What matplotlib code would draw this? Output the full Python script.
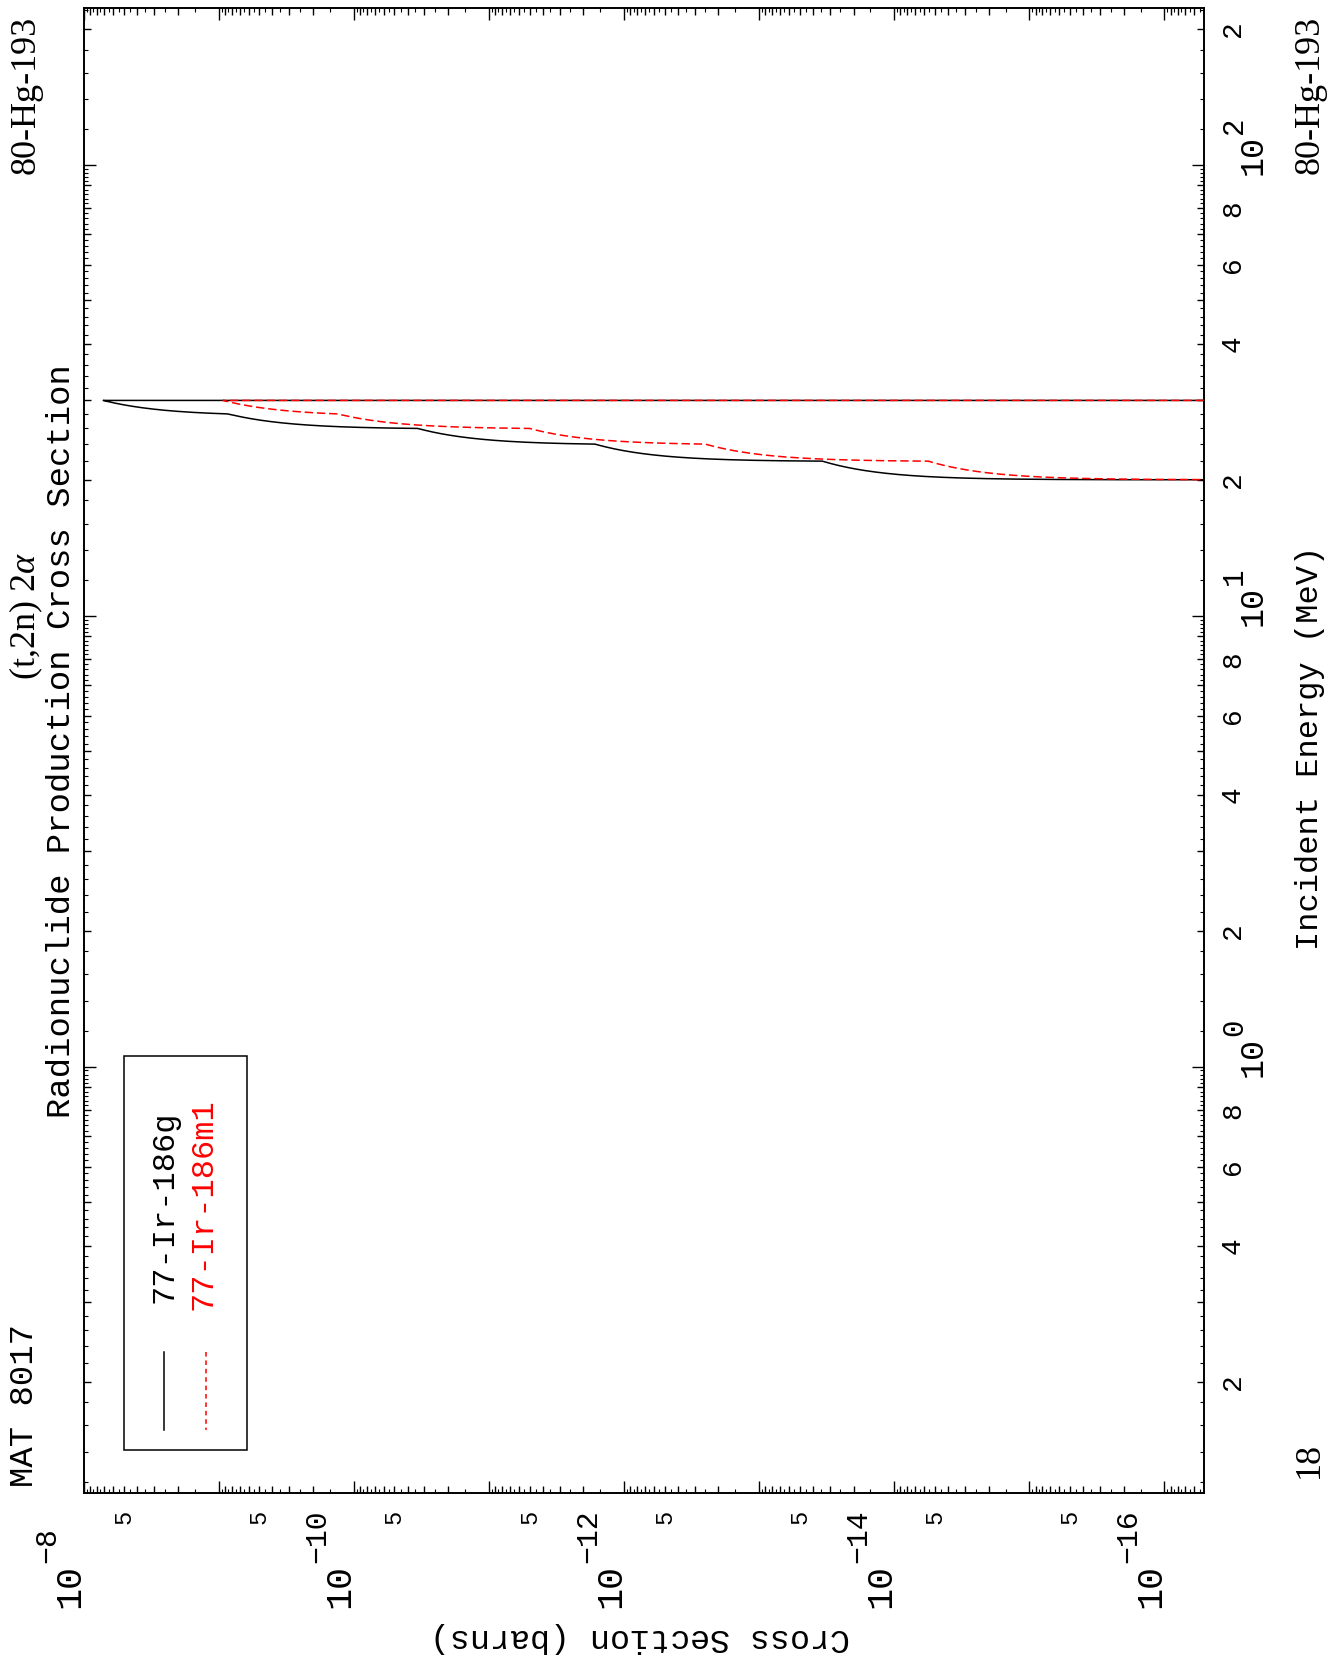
import numpy as np
import matplotlib
matplotlib.use("Agg")
import matplotlib.pyplot as plt
from matplotlib.ticker import FixedLocator, FixedFormatter, NullFormatter
from matplotlib.patches import Rectangle
from matplotlib.lines import Line2D
from matplotlib.transforms import offset_copy

# ---------------- data ----------------
energy_mev = [20.0, 22.0, 24.0, 26.0, 28.0, 30.0]
xs_ir186g = [0.0, 3.4e-14, 1.64e-12, 3.36e-11, 8.5e-10, 7.14e-9]
xs_ir186m1 = [0.0, 5.6e-15, 2.5e-13, 5.0e-12, 1.31e-10, 9.27e-10]
series_labels = ["77-Ir-186g", "77-Ir-186m1"]
series_colors = ["black", "red"]

xs_major = [1e-8, 1e-9, 1e-10, 1e-11, 1e-12, 1e-13, 1e-14, 1e-15, 1e-16]
xs_major_exp = ["\u22128", "", "\u221210", "", "\u221212", "", "\u221214", "", "\u221216"]
energy_major = [1.0, 10.0, 100.0]
energy_major_exp = ["0", "1", "2"]

XLIM = (1e-8, 5.1e-17)
YLIM = (0.1133, 222.5)

W, H = 1334, 1662
plt.rcParams['font.family'] = ['Liberation Serif', 'DejaVu Serif']
plt.rcParams['mathtext.fontset'] = 'custom'
plt.rcParams['mathtext.rm'] = 'Liberation Serif'
plt.rcParams['mathtext.it'] = 'Liberation Serif:italic'
plt.rcParams['mathtext.bf'] = 'Liberation Serif:bold'
MONO = ['Liberation Mono', 'DejaVu Sans Mono']


def px(x, y):
    return (x / W, 1.0 - y / H)


def linlin(e, s, n=1200):
    """Draw-time rendering of ENDF lin-lin interpolation between tabulated points."""
    e = np.asarray(e, float)
    s = np.asarray(s, float)
    t = np.linspace(0.0, 1.0, n)[:-1]
    ee = [e[i] + (e[i + 1] - e[i]) * t for i in range(len(e) - 1)] + [e[-1:]]
    ss = [s[i] + (s[i + 1] - s[i]) * t for i in range(len(s) - 1)] + [s[-1:]]
    ee = np.concatenate(ee + [e[-1:]])
    ss = np.concatenate(ss + [np.zeros(1)])   # end of tabulation: drop to zero
    return ee, ss


fig = plt.figure(figsize=(W / 100, H / 100), dpi=100)
L, R, T, B = 83.5, 1204.0, 8.0, 1493.0
ax = fig.add_axes([L / W, 1 - B / H, (R - L) / W, (B - T) / H])

ax.set_xscale('log')
ax.set_yscale('log')

for xs, col in zip([xs_ir186g, xs_ir186m1], series_colors):
    ee, ss = linlin(energy_mev, xs)
    if col == 'red':
        ax.plot(ss, ee, color=col, lw=1.1, dashes=(5.5, 2.5), zorder=3)
    else:
        ax.plot(ss, ee, color=col, lw=1.1, zorder=2)

ax.set_xlim(*XLIM)
ax.set_ylim(*YLIM)

# ---- ticks: cross-section axis (horizontal) ----
decs_x = [10.0 ** k for k in range(-17, -7)]
xs_minor, xs_minor_labels = [], []
for d in decs_x:
    for m in range(2, 10):
        xs_minor.append(m * d)
        xs_minor_labels.append("5" if m == 5 else "")
xs_small = [m * d for d in decs_x for m in np.arange(1.5, 10.0, 1.0)]

ax.xaxis.set_major_locator(FixedLocator(xs_major))
ax.xaxis.set_major_formatter(NullFormatter())
ax.xaxis.set_minor_locator(FixedLocator(xs_minor))
ax.xaxis.set_minor_formatter(FixedFormatter(xs_minor_labels))

# ---- ticks: energy axis (vertical) ----
decs_y = [0.1, 1.0, 10.0, 100.0]
en_minor, en_minor_labels = [], []
for d in decs_y:
    for m in range(2, 10):
        en_minor.append(m * d)
        en_minor_labels.append(str(m) if m % 2 == 0 else "")
en_small = [m * d for d in decs_y for m in np.arange(1.2, 9.9, 0.2)
            if abs(m - round(m)) > 1e-6]

ax.yaxis.set_major_locator(FixedLocator(energy_major))
ax.yaxis.set_major_formatter(NullFormatter())
ax.yaxis.set_minor_locator(FixedLocator(en_minor))
ax.yaxis.set_minor_formatter(FixedFormatter(en_minor_labels))

ax.tick_params(axis='x', which='major', direction='in', top=True, bottom=True,
               length=8.6, width=1.0)
ax.tick_params(axis='x', which='minor', direction='in', top=True, bottom=True,
               length=5.0, width=1.0, pad=12, labelsize=17, labelrotation=90,
               labelfontfamily='Liberation Mono')
ax.tick_params(axis='y', which='major', direction='in', left=True, right=True,
               labelleft=False, labelright=False, length=8.6, width=1.0)
ax.tick_params(axis='y', which='minor', direction='in', left=True, right=True,
               labelleft=False, labelright=True,
               length=5.0, width=1.0, pad=11.5, labelsize=20, labelrotation=90,
               labelfontfamily='Liberation Mono')

for t in ax.yaxis.get_minor_ticks(len(en_minor)):
    t.label2.set_verticalalignment('center')

# decade labels: "10" with a raised exponent (rotated page)
xtr = ax.get_xaxis_transform()
ytr = ax.get_yaxis_transform()
rk = dict(rotation=90, rotation_mode='anchor', ha='left', va='baseline',
          family=MONO, clip_on=False)
for v, ex in zip(xs_major, xs_major_exp):
    if not ex:
        continue
    ax.text(v, 0, "10", transform=offset_copy(xtr, fig=fig, x=-4, y=-115, units='dots'),
            fontsize=26.5, **rk)
    ax.text(v, 0, ex, transform=offset_copy(xtr, fig=fig, x=-28, y=-70, units='dots'),
            fontsize=21.5, **rk)
for v, ex in zip(energy_major, energy_major_exp):
    ax.text(1, v, "10", transform=offset_copy(ytr, fig=fig, x=58, y=-10, units='dots'),
            fontsize=24, **rk)
    ax.text(1, v, ex, transform=offset_copy(ytr, fig=fig, x=38, y=31, units='dots'),
            fontsize=21, **rk)

# smallest tick marks
fx = 4.0 / (B - T)
fy = 4.0 / (R - L)
xs_small = [v for v in xs_small if XLIM[1] < v < XLIM[0]]
en_small = [v for v in en_small if YLIM[0] < v < YLIM[1]]
ax.vlines(xs_small, 0, fx, transform=xtr, color='black', lw=0.8, clip_on=False)
ax.vlines(xs_small, 1 - fx, 1, transform=xtr, color='black', lw=0.8, clip_on=False)
ax.hlines(en_small, 0, fy, transform=ytr, color='black', lw=0.8, clip_on=False)
ax.hlines(en_small, 1 - fy, 1, transform=ytr, color='black', lw=0.8, clip_on=False)

for sp in ax.spines.values():
    sp.set_linewidth(1.4)

# ---------------- texts ----------------
kw = dict(rotation=90, rotation_mode='anchor', va='baseline')
fig.text(*px(70, 741), "Radionuclide Production Cross Section", ha='center',
         family=MONO, fontsize=24.4, **kw)
fig.text(*px(35, 616), r"(t,2n) 2$\alpha$", ha='center', fontsize=26, **kw)
fig.text(*px(33, 1487), "MAT 8017", ha='left', family=MONO, fontsize=24.4, **kw)
fig.text(*px(35, 16), "80-Hg-193", ha='right', fontsize=26, **kw)
fig.text(*px(1319, 16), "80-Hg-193", ha='right', fontsize=26, **kw)
fig.text(*px(1318, 748), "Incident Energy (MeV)", ha='center', family=MONO,
         fontsize=23, **kw)
fig.text(*px(1318, 1460), "18", ha='center', fontsize=26, **kw)
fig.text(*px(640, 1638), "Cross Section (barns)", ha='center', va='center',
         rotation=180, family=MONO, fontsize=24)

# ---------------- legend (rotated) ----------------
x0, y0 = px(124, 1450)
x1, y1 = px(247, 1056)
fig.add_artist(Rectangle((x0, y0), x1 - x0, y1 - y0, transform=fig.transFigure,
                         fill=True, facecolor='white', edgecolor='black', lw=1.1))
sample_x = [164, 206]
text_x = [172, 212]
text_y = [1303, 1310]
for lab, col, sx, tx, ty in zip(series_labels, series_colors, sample_x, text_x, text_y):
    a = px(sx, 1352)
    b = px(sx, 1430)
    ln = Line2D([a[0], b[0]], [a[1], b[1]], transform=fig.transFigure, color=col, lw=1.1)
    if col == 'red':
        ln.set_dashes((3.0, 2.5))
    fig.add_artist(ln)
    fig.text(*px(tx, ty), lab, ha='left', color=col, family=MONO, fontsize=23, **kw)

fig.savefig("out.png", dpi=100)
